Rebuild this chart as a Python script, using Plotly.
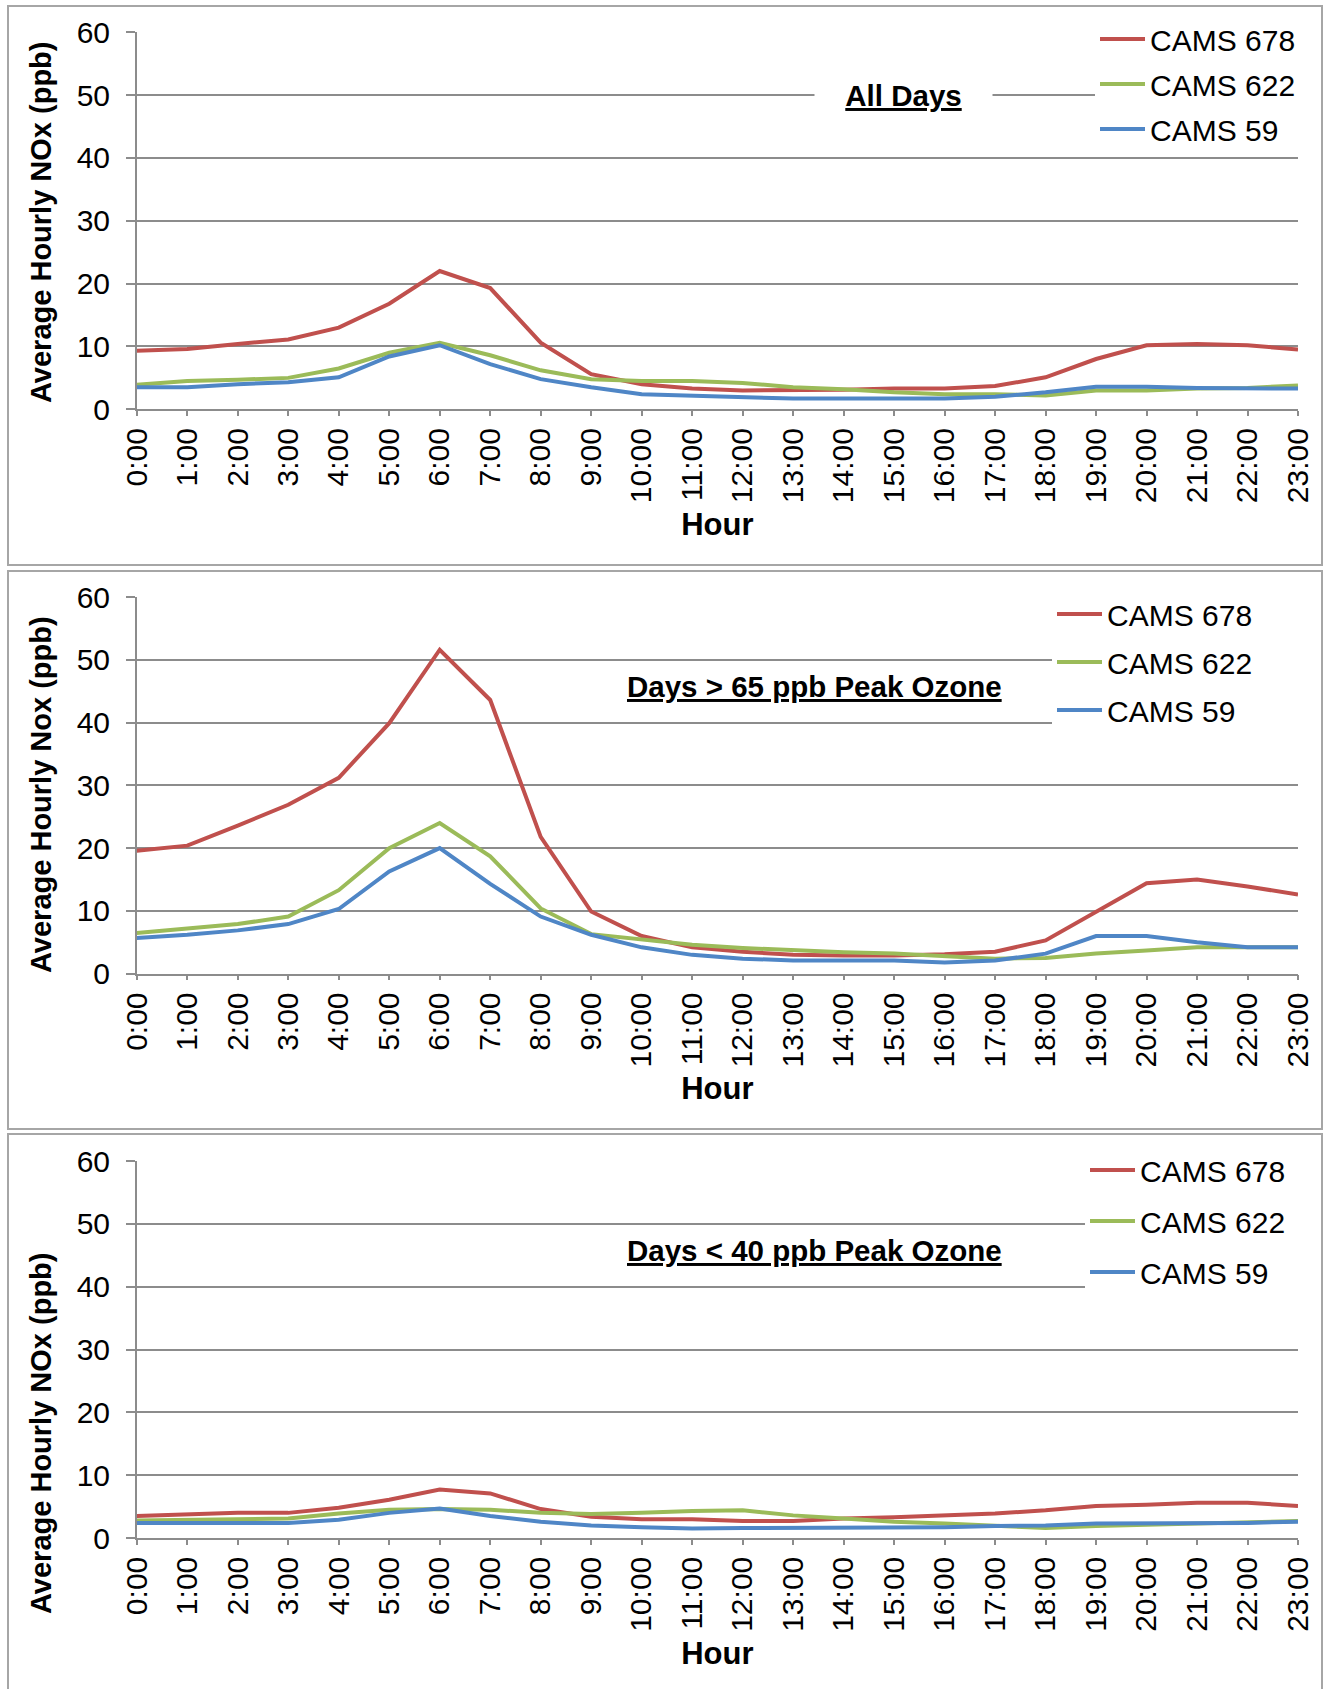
import plotly.graph_objects as go

# ---------------- data ----------------
hours = ["0:00", "1:00", "2:00", "3:00", "4:00", "5:00", "6:00", "7:00", "8:00", "9:00",
         "10:00", "11:00", "12:00", "13:00", "14:00", "15:00", "16:00", "17:00", "18:00",
         "19:00", "20:00", "21:00", "22:00", "23:00"]
y_ticks = [0, 10, 20, 30, 40, 50, 60]

series_names = ["CAMS 678", "CAMS 622", "CAMS 59"]

all_678 = [9.3, 9.6, 10.4, 11.1, 13.0, 16.8, 22.0, 19.3, 10.6, 5.6, 4.0, 3.3,
           3.0, 3.0, 3.1, 3.3, 3.3, 3.7, 5.1, 8.0, 10.2, 10.4, 10.2, 9.5]
all_622 = [3.9, 4.5, 4.7, 5.0, 6.5, 9.0, 10.6, 8.6, 6.2, 4.8, 4.5, 4.5,
           4.2, 3.5, 3.2, 2.7, 2.4, 2.4, 2.2, 3.0, 3.0, 3.3, 3.4, 3.8]
all_59 = [3.5, 3.5, 4.0, 4.3, 5.1, 8.4, 10.2, 7.2, 4.8, 3.5, 2.4, 2.2,
          2.0, 1.7, 1.7, 1.7, 1.7, 2.0, 2.7, 3.6, 3.6, 3.4, 3.3, 3.3]

high_678 = [19.6, 20.4, 23.6, 26.9, 31.2, 39.9, 51.6, 43.6, 21.8, 9.9, 6.0, 4.2,
            3.5, 3.0, 2.9, 2.9, 3.1, 3.5, 5.3, 9.9, 14.4, 15.0, 13.9, 12.6]
high_622 = [6.5, 7.2, 7.9, 9.1, 13.3, 20.0, 24.0, 18.7, 10.4, 6.3, 5.4, 4.6,
            4.1, 3.7, 3.4, 3.2, 2.8, 2.4, 2.5, 3.2, 3.7, 4.2, 4.2, 4.2]
high_59 = [5.7, 6.2, 6.9, 7.9, 10.3, 16.3, 20.0, 14.3, 9.1, 6.2, 4.2, 3.0,
           2.4, 2.1, 2.1, 2.1, 1.8, 2.1, 3.2, 6.0, 6.0, 5.0, 4.2, 4.2]

low_678 = [3.5, 3.8, 4.0, 4.0, 4.8, 6.1, 7.7, 7.1, 4.6, 3.4, 3.0, 3.0,
           2.7, 2.7, 3.1, 3.3, 3.6, 3.9, 4.4, 5.1, 5.3, 5.6, 5.6, 5.1]
low_622 = [2.8, 2.9, 3.1, 3.1, 3.9, 4.5, 4.6, 4.5, 4.0, 3.8, 4.0, 4.3,
           4.4, 3.6, 3.1, 2.6, 2.3, 1.9, 1.6, 1.9, 2.1, 2.3, 2.6, 2.7]
low_59 = [2.4, 2.4, 2.4, 2.4, 2.9, 4.0, 4.7, 3.5, 2.6, 2.0, 1.7, 1.5,
          1.6, 1.6, 1.6, 1.6, 1.7, 1.9, 2.0, 2.3, 2.3, 2.3, 2.4, 2.6]

panel_titles = ["All Days", "Days > 65 ppb Peak Ozone", "Days < 40 ppb Peak Ozone"]
y_titles = ["Average Hourly NOx (ppb)", "Average Hourly Nox (ppb)", "Average Hourly NOx (ppb)"]
x_title = "Hour"

panel_data = [
    [all_678, all_622, all_59],
    [high_678, high_622, high_59],
    [low_678, low_622, low_59],
]

# ---------------- style / layout ----------------
W, H = 1328, 1689
FONT = "Liberation Sans, Arial, sans-serif"
colors = ["#C0504D", "#9BBB59", "#4F86C6"]
GRID = "#8C8C8C"
BORDER = "#A6A6A6"

PX_X0, PX_X1 = 136.8, 1298.0
layout_px = [
    dict(top=32.3, bottom=409.3, btop=6, bbot=565, lx=1095, ly=13, gap=3,
         cover=(20, 140), tx=903, ty=95, bg=True, yt=223),
    dict(top=597.0, bottom=973.7, btop=571, bbot=1129, lx=1052, ly=588, gap=6,
         cover=(588, 738), tx=814, ty=686, bg=False, yt=795),
    dict(top=1161.0, bottom=1538.0, btop=1134, bbot=1700, lx=1085, ly=1144, gap=9,
         cover=(1150, 1300), tx=814, ty=1250, bg=False, yt=1434),
]


def px(x):
    return x / W


def py(y):
    return 1 - y / H


fig = go.Figure()
shapes = []
annotations = []
lay = {}

for i, (vals, L) in enumerate(zip(panel_data, layout_px)):
    n = "" if i == 0 else str(i + 1)
    leg = "legend" + n
    for k, (name, v) in enumerate(zip(series_names, vals)):
        fig.add_trace(go.Scatter(
            x=hours, y=v, name=name, mode="lines",
            line=dict(color=colors[k], width=4),
            xaxis="x" + n, yaxis="y" + n, legend=leg,
            legendgroup=f"g{i}{k}",
        ))

    lay["xaxis" + n] = dict(
        domain=[px(PX_X0), px(PX_X1)], anchor="y" + n, type="category",
        range=[0, 23], tickmode="array", tickvals=hours, ticktext=hours,
        tickangle=-90, ticks="outside", ticklen=5, tickwidth=1.5, tickcolor=GRID,
        showline=True, linecolor=GRID, linewidth=1.5, showgrid=False, zeroline=False,
        tickfont=dict(family=FONT, size=30, color="#000"),
        title=dict(text=f"<b>{x_title}</b>", font=dict(family=FONT, size=31, color="#000"), standoff=11),
        automargin=False,
    )
    lay["yaxis" + n] = dict(
        domain=[py(L["bottom"]), py(L["top"])], anchor="x" + n,
        range=[0, 60], tickmode="array", tickvals=y_ticks,
        ticks="outside", ticklen=9, tickwidth=1.5, tickcolor=GRID, ticklabelstandoff=10,
        showline=True, linecolor=GRID, linewidth=1.5,
        showgrid=True, gridcolor=GRID, gridwidth=1.5, zeroline=False,
        tickfont=dict(family=FONT, size=30, color="#000"),
        automargin=False,
    )
    lay[leg] = dict(
        x=px(L["lx"]), xanchor="left", y=py(L["ly"]), yanchor="top",
        bgcolor="#FFFFFF", borderwidth=0, font=dict(family=FONT, size=30, color="#000"),
        traceorder="grouped", tracegroupgap=L["gap"], itemwidth=45,
    )

    # white area behind the legend, where the gridlines stop
    shapes.append(dict(type="rect", xref="paper", yref="paper",
                       x0=px(L["lx"]), x1=px(1304), y0=py(L["cover"][1]), y1=py(L["cover"][0]),
                       line=dict(width=0), fillcolor="#FFFFFF", layer="above"))
    shapes.append(dict(type="rect", xref="paper", yref="paper",
                       x0=px(8), x1=px(1322), y0=py(L["bbot"]), y1=py(L["btop"]),
                       line=dict(color=BORDER, width=2), fillcolor="rgba(0,0,0,0)", layer="above"))

    # panel title
    ann = dict(text=f"<b><u>{panel_titles[i]}</u></b>", xref="paper", yref="paper",
               x=px(L["tx"]), y=py(L["ty"]), xanchor="center", yanchor="middle",
               showarrow=False, font=dict(family=FONT, size=29.5, color="#000"))
    if L["bg"]:
        ann.update(bgcolor="#FFFFFF", width=175)
    annotations.append(ann)

    # y-axis title
    annotations.append(dict(text=f"<b>{y_titles[i]}</b>", xref="paper", yref="paper",
                            x=px(41), y=py(L["yt"]), xanchor="center", yanchor="middle",
                            textangle=-90, showarrow=False,
                            font=dict(family=FONT, size=29, color="#000")))

fig.update_layout(
    width=W, height=H, margin=dict(l=0, r=0, t=0, b=0),
    paper_bgcolor="#FFFFFF", plot_bgcolor="#FFFFFF",
    showlegend=True, shapes=shapes, annotations=annotations,
    font=dict(family=FONT, color="#000"),
    **lay,
)

fig.write_html("out.html")
